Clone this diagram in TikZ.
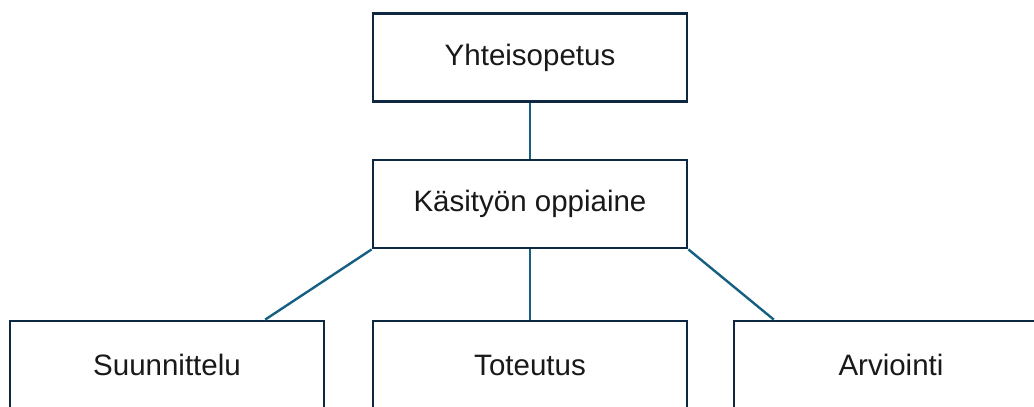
\documentclass[tikz,border=0pt]{standalone}
\usepackage{fontspec}
\setmainfont{Liberation Sans}
\usepackage{xcolor}
\usepackage{tikz}
\usetikzlibrary{positioning,calc}

\definecolor{boxline}{HTML}{0E2841}
\definecolor{linkline}{HTML}{156082}

\begin{document}
\begin{tikzpicture}[x=1pt, y=1pt,
    box/.style={draw=boxline, line width=2.8pt, fill=white, minimum width=314pt, minimum height=88pt,
                inner sep=0pt, font=\fontsize{29.5}{34}\selectfont, text=black!90},
    link/.style={draw=linkline, line width=2.4pt}]
    % Frame
    \useasboundingbox (0,0) rectangle (1034,-407);
    \clip (0,0) rectangle (1034,-407);

    % Boxes
    \node[box] (yhteis) at (530,-57.5) {Yhteisopetus};
    \node[box] (kasityo) at (530,-204) {Käsityön oppiaine};
    \node[box] (suunn) at (167,-365) {Suunnittelu};
    \node[box] (toteut) at (530,-365) {Toteutus};
    \node[box] (arvio) at (891,-365) {Arviointi};

    % Connection points
    \coordinate (suunntop) at ($(suunn.north west)!0.81!(suunn.north east)$);
    \coordinate (arviotop) at ($(arvio.north west)!0.13!(arvio.north east)$);

    % Links
    \draw[link] (yhteis.south) -- (kasityo.north);
    \draw[link] (kasityo.south west) -- (suunntop);
    \draw[link] (kasityo.south) -- (toteut.north);
    \draw[link] (kasityo.south east) -- (arviotop);
\end{tikzpicture}
\end{document}
